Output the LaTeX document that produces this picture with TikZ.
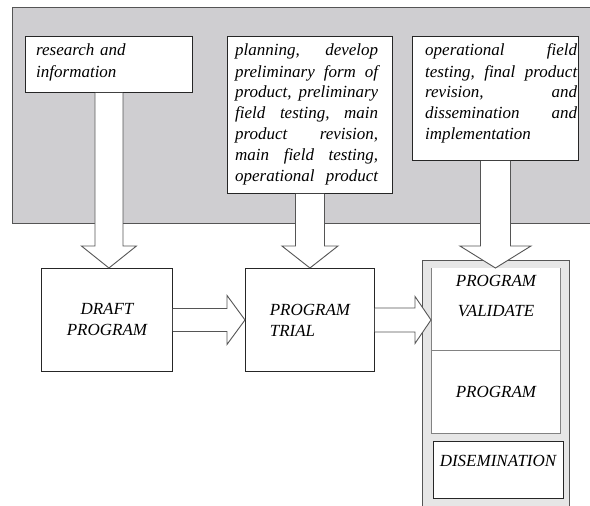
\documentclass[tikz,border=0pt]{standalone}
\usepackage{fontspec}
\setmainfont{Liberation Serif}
\usetikzlibrary{calc,positioning}
\definecolor{panelgray}{RGB}{207,206,209}
\definecolor{stackgray}{RGB}{230,230,230}
\definecolor{edgegray}{RGB}{85,85,85}
\definecolor{cellgray}{RGB}{130,130,130}
\tikzset{
  panel/.style={draw=edgegray,fill=panelgray,anchor=north west,line width=0.9pt},
  infobox/.style={draw=black!85,fill=white,anchor=north west,line width=0.9pt},
  infotext/.style={anchor=base west,inner sep=0pt,font=\itshape\fontsize{17}{21}\selectfont},
  stagebox/.style={draw=black!85,fill=white,anchor=north west,line width=0.9pt,
    font=\itshape\fontsize{17}{21}\selectfont},
  stack/.style={draw=edgegray,fill=stackgray,anchor=north west,line width=0.9pt},
  cell/.style={fill=white,anchor=north west,line width=0.9pt,font=\itshape\fontsize{17}{21}\selectfont},
  captext/.style={align=center,inner sep=0pt,font=\itshape\fontsize{17}{30}\selectfont},
  blockarrow/.style={draw=edgegray,fill=white,line width=0.9pt,line join=miter},
}
% block arrows: source, target, half shaft, half head, head length
\newcommand{\downblock}[5]{%
  \draw[blockarrow] let \p1=(#1.south), \p2=(#2.north) in
    (\x1-#3pt,\y1) -- (\x1-#3pt,\y2+#5pt) -- (\x1-#4pt,\y2+#5pt) -- (\x1,\y2)
    -- (\x1+#4pt,\y2+#5pt) -- (\x1+#3pt,\y2+#5pt) -- (\x1+#3pt,\y1);}
\newcommand{\rightblock}[5]{%
  \draw[blockarrow] let \p1=(#1.east), \p2=(#2.west) in
    (\x1,\y1+#3pt) -- (\x2-#5pt,\y1+#3pt) -- (\x2-#5pt,\y1+#4pt) -- (\x2,\y1)
    -- (\x2-#5pt,\y1-#4pt) -- (\x2-#5pt,\y1-#3pt) -- (\x1,\y1-#3pt);}
\begin{document}
\begin{tikzpicture}[x=1pt,y=-1pt]
\useasboundingbox (0,0) rectangle (590,506);
\clip (0,0) rectangle (590,506);
\node[panel,minimum width=600,minimum height=216] (bg) at (12,7) {};
\node[infobox,minimum width=167,minimum height=56] (res) at (25,36) {};
\node[infobox,minimum width=165,minimum height=157] (plan) at (227,36) {};
\node[infobox,minimum width=166,minimum height=124] (oper) at (412,36) {};
\node[infotext,text width=110] (res text) at (36,56) {research and\\information};
\node[infotext,text width=143] (plan text) at (235,56) {%
  planning,\hfill develop\\preliminary\hfill form\hfill of\\product,\hfill preliminary\\
  field\hfill testing,\hfill main\\product\hfill revision,\\main\hfill field\hfill testing,\\
  operational\hfill product};
\node[infotext,text width=152] (oper text) at (425,56) {%
  operational\hfill field\\testing,\hfill final\hfill product\\revision,\hfill and\\
  dissemination\hfill and\\implementation};
\node[stagebox,align=center,minimum width=131,minimum height=103] (draft) at (41,268) {DRAFT\\PROGRAM};
\node[stagebox,align=left,minimum width=129,minimum height=103] (trial) at (245,268) {PROGRAM\\TRIAL};
\node[stack,minimum width=147,minimum height=270] (stack) at (422,260) {};
\node[cell,minimum width=129,minimum height=82] (valid) at (431,268) {};
\draw[cellgray,line width=0.9pt] (valid.north west) -- (valid.south west) -- (valid.south east) -- (valid.north east);
\node[captext] (valid text) at (496,296) {PROGRAM\\VALIDATE};
\node[cell,draw=cellgray,minimum width=129,minimum height=83] (prog) at (431,350) {PROGRAM};
\node[cell,draw=black!85,minimum width=130,minimum height=57] (dissem) at (433,441) {};
\node[captext] (dissem text) at (498,461) {DISEMINATION};
\downblock{res}{draft}{14}{27.5}{22}
\downblock{plan}{trial}{14.5}{28}{22}
\downblock{oper}{valid}{15}{35.5}{22}
\rightblock{draft}{trial}{11.5}{24.5}{18}
\rightblock{trial}{valid}{12}{23.5}{16}
\end{tikzpicture}
\end{document}
